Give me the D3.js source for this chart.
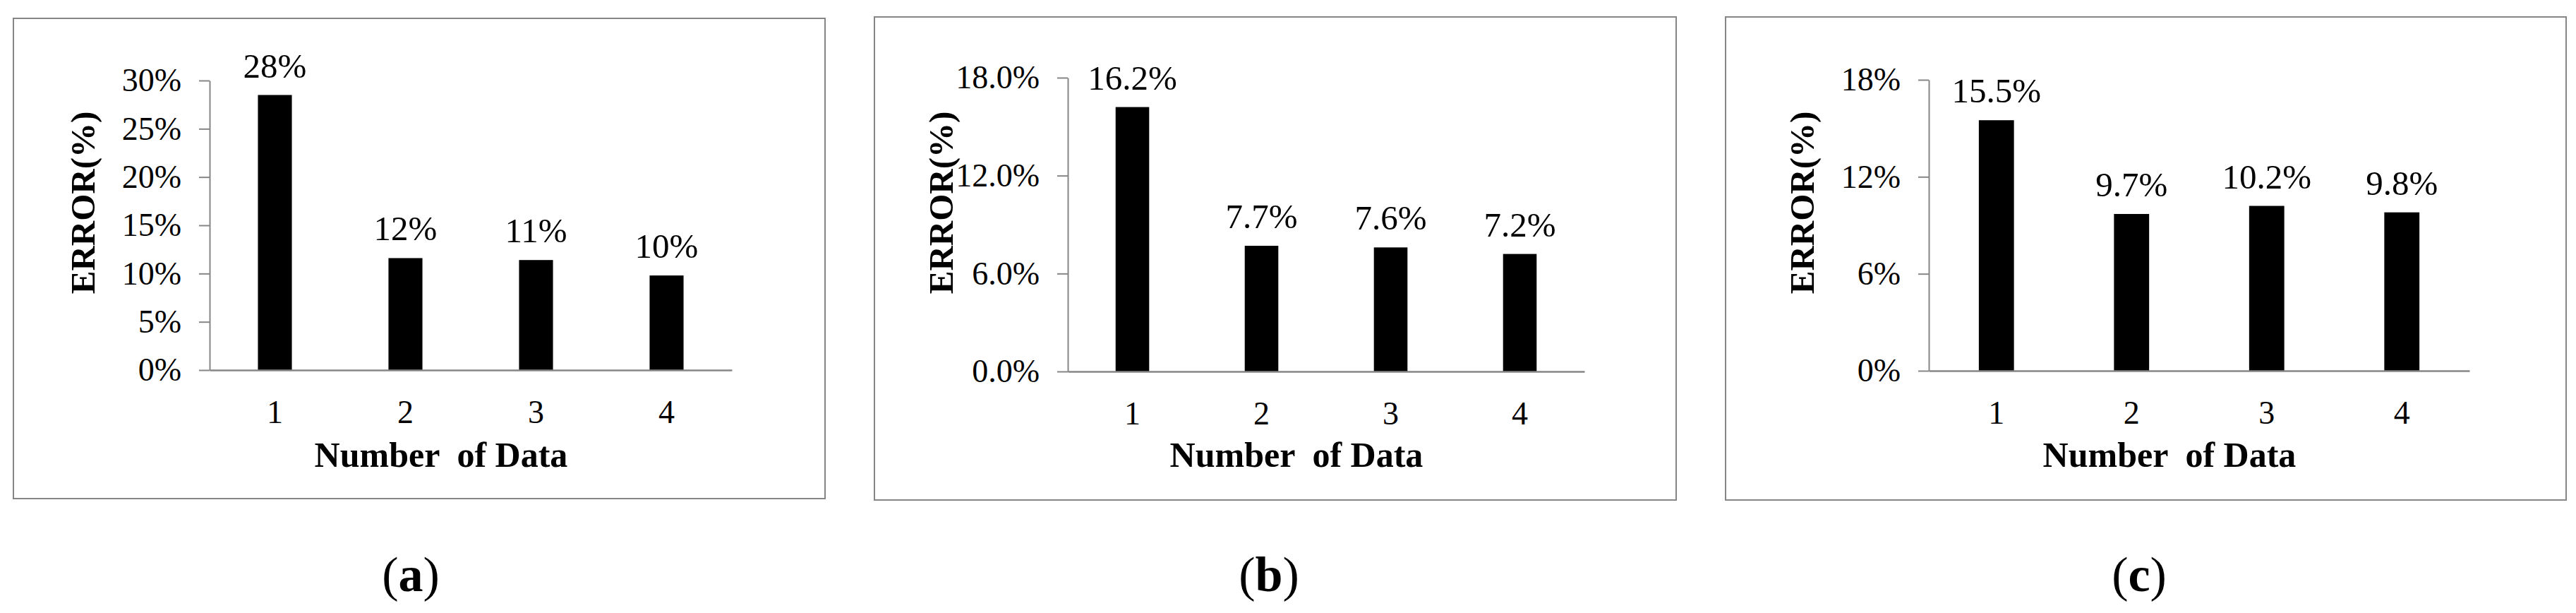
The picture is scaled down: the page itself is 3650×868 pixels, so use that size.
<!DOCTYPE html>
<html>
<head>
<meta charset="utf-8">
<script src="https://cdn.jsdelivr.net/npm/d3@7"></script>
<style>
  html, body { margin: 0; padding: 0; background: #fff; }
  svg { display: block; }
  text { font-family: "Liberation Serif", "Times New Roman", serif; fill: #000; }
</style>
</head>
<body>
<svg id="chart" width="3650" height="868"></svg>
<script>
// ---- data ----
const categories = ["1", "2", "3", "4"];

const valuesA = [28.5, 11.6, 11.4, 9.8];
const barLabelsA = ["28%", "12%", "11%", "10%"];
const ticksA = [0, 5, 10, 15, 20, 25, 30];
const tickLabelsA = ["0%", "5%", "10%", "15%", "20%", "25%", "30%"];

const valuesB = [16.2, 7.7, 7.6, 7.2];
const barLabelsB = ["16.2%", "7.7%", "7.6%", "7.2%"];
const ticksB = [0, 6, 12, 18];
const tickLabelsB = ["0.0%", "6.0%", "12.0%", "18.0%"];

const valuesC = [15.5, 9.7, 10.2, 9.8];
const barLabelsC = ["15.5%", "9.7%", "10.2%", "9.8%"];
const ticksC = [0, 6, 12, 18];
const tickLabelsC = ["0%", "6%", "12%", "18%"];

const panelLetters = ["a", "b", "c"];
const xTitle = "Number  of Data";
const yTitle = "ERROR(%)";

// ---- layout (positions only) ----
const panels = [
  { values: valuesA, labels: barLabelsA, ticks: ticksA, tickLabels: tickLabelsA,
    box: [18, 25, 1170, 707], px: [297, 1037], py: [114, 524], captionX: 582 },
  { values: valuesB, labels: barLabelsB, ticks: ticksB, tickLabels: tickLabelsB,
    box: [1238, 23, 2376, 709], px: [1513, 2245], py: [110, 526], captionX: 1798 },
  { values: valuesC, labels: barLabelsC, ticks: ticksC, tickLabels: tickLabelsC,
    box: [2444, 23, 3637, 709], px: [2733, 3499], py: [113, 525], captionX: 3031 }
];

const svg = d3.select("#chart");
const gray = "#868686";

panels.forEach((p, pi) => {
  const g = svg.append("g");

  // frame
  g.append("rect")
    .attr("x", p.box[0] + 1).attr("y", p.box[1] + 1)
    .attr("width", p.box[2] - p.box[0] - 2).attr("height", p.box[3] - p.box[1] - 2)
    .attr("fill", "none").attr("stroke", gray).attr("stroke-width", 2);

  const x = d3.scaleBand().domain(categories).range(p.px)
    .paddingInner(0.74).paddingOuter(0.37);
  const y = d3.scaleLinear().domain([0, d3.max(p.ticks)]).range([p.py[1], p.py[0]]);

  // y axis
  const yAxis = g.append("g")
    .attr("transform", `translate(${p.px[0]},0)`)
    .call(d3.axisLeft(y).tickValues(p.ticks)
      .tickFormat((d, i) => p.tickLabels[i])
      .tickSize(15).tickSizeOuter(0).tickPadding(25));
  yAxis.selectAll("path, line").attr("stroke", gray).attr("stroke-width", 2);
  yAxis.selectAll("text").attr("font-size", 46)
    .attr("font-family", '"Liberation Serif", "Times New Roman", serif').attr("fill", "#000");

  // bars
  g.selectAll("rect.bar").data(p.values).enter().append("rect")
    .attr("class", "bar")
    .attr("x", (d, i) => x(categories[i]))
    .attr("width", x.bandwidth())
    .attr("y", d => y(d))
    .attr("height", d => y(0) - y(d))
    .attr("fill", "#000");

  // x axis
  const xAxis = g.append("g")
    .attr("transform", `translate(0,${p.py[1]})`)
    .call(d3.axisBottom(x).tickSize(0).tickSizeOuter(0).tickPadding(42));
  xAxis.select("path.domain").attr("stroke", gray).attr("stroke-width", 2.5);
  xAxis.selectAll("text").attr("font-size", 46)
    .attr("font-family", '"Liberation Serif", "Times New Roman", serif').attr("fill", "#000");

  // bar value labels
  g.selectAll("text.vlabel").data(p.values).enter().append("text")
    .attr("class", "vlabel")
    .attr("x", (d, i) => x(categories[i]) + x.bandwidth() / 2)
    .attr("y", d => y(d) - 25)
    .attr("text-anchor", "middle")
    .attr("font-size", 49)
    .text((d, i) => p.labels[i]);

  // axis titles
  g.append("text")
    .attr("x", (p.px[0] + p.px[1]) / 2 - 42)
    .attr("y", 661)
    .attr("text-anchor", "middle")
    .attr("font-size", 50).attr("font-weight", "bold")
    .style("white-space", "pre")
    .attr("xml:space", "preserve")
    .text(xTitle);

  g.append("text")
    .attr("transform", `translate(${p.px[0] - 163},287) rotate(-90)`)
    .attr("text-anchor", "middle")
    .attr("font-size", 49).attr("font-weight", "bold")
    .text(yTitle);

  // caption
  const cap = svg.append("text")
    .attr("x", p.captionX).attr("y", 837)
    .attr("text-anchor", "middle")
    .attr("font-size", 70);
  cap.append("tspan").text("(");
  cap.append("tspan").attr("font-weight", "bold").text(panelLetters[pi]);
  cap.append("tspan").text(")");
});
</script>
</body>
</html>
